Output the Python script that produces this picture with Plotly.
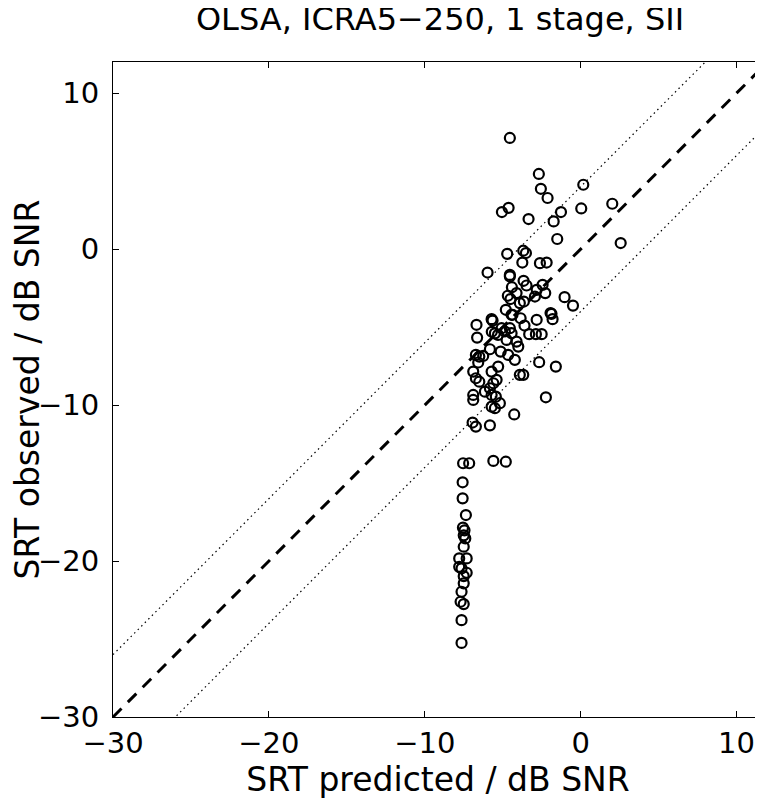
import plotly.graph_objects as go

# Scatter data: SRT predicted (x) vs SRT observed (y), dB SNR
srt_predicted = [
    -4.54, -2.68, -2.55, -2.12, 0.17, -4.62, -5.05, -3.34, -1.26, -1.73,
    0.04, 2.03, -1.50, 2.57, -4.71, -3.68, -3.51, -3.74, -2.61, -2.18,
    -5.97, -4.54, -4.54, -3.66, -3.47, -4.41, -4.67, -4.11, -2.82, -2.44,
    -2.93, -2.27, -3.90, -3.64, -1.03, -0.49, -4.80, -4.43, -1.93, -1.87,
    -5.71, -2.82, -3.85, -6.68, -5.65, -4.37, -1.80, -6.64, -5.70, -5.50,
    -5.30, -5.07, -4.86, -4.54, -4.43, -4.75, -4.11, -4.00, -3.30, -2.87,
    -2.50, -5.82, -5.13, -4.65, -4.22, -6.72, -6.50, -6.25, -6.57, -2.66,
    -1.59, -5.29, -5.71, -6.89, -3.90, -3.68, -6.72, -6.50, -5.39, -5.60,
    -5.82, -6.14, -6.89, -6.89, -5.71, -5.44, -5.18, -5.71, -5.50, -2.23,
    -4.26, -6.93, -6.72, -5.82, -7.54, -7.15, -5.60, -4.80, -7.57, -7.57,
    -7.36, -7.55, -7.45, -7.50, -7.40, -7.50, -7.79, -7.31, -7.79, -7.64,
    -7.31, -7.50, -7.50, -7.64, -7.70, -7.50, -7.64, -7.64, -4.50, -3.60,
]
srt_observed = [
    7.13, 4.82, 3.87, 3.28, 4.13, 2.65, 2.38, 1.93, 2.38, 1.78,
    2.61, 2.91, 0.65, 0.39, -0.30, -0.10, -0.25, -0.86, -0.90, -0.86,
    -1.50, -1.65, -1.75, -2.03, -2.33, -2.44, -2.99, -2.82, -2.61, -2.29,
    -3.04, -2.82, -3.46, -3.36, -3.08, -3.62, -3.89, -4.21, -4.10, -4.15,
    -4.49, -4.53, -4.43, -4.85, -4.58, -4.21, -4.49, -5.67, -5.30, -5.40,
    -5.50, -5.07, -5.28, -5.07, -5.39, -5.82, -5.93, -6.25, -5.45, -5.45,
    -5.45, -6.42, -6.57, -6.78, -7.10, -6.78, -6.89, -6.85, -7.27, -7.25,
    -7.53, -7.53, -7.85, -7.85, -8.06, -8.06, -8.28, -8.50, -8.38, -8.60,
    -8.92, -9.14, -9.35, -9.67, -9.35, -9.46, -9.88, -10.10, -10.20, -9.50,
    -10.60, -11.12, -11.38, -11.30, -13.73, -13.73, -13.58, -13.63, -14.95, -15.98,
    -17.05, -17.86, -18.03, -18.35, -18.55, -19.08, -19.83, -19.83, -20.37, -20.47,
    -20.75, -20.97, -21.43, -21.97, -22.61, -22.76, -23.79, -25.25, -3.20, -4.90,
]

# Reference lines: identity and +/- 4 dB
line_x = [-30, 12]
identity_offset = 0
band_offset = 4

x_ticks = [-30, -20, -10, 0, 10]
y_ticks = [-30, -20, -10, 0, 10]
x_range = [-30, 11.7]
y_range = [-30, 12]

title_text = "OLSA, ICRA5\u2212250, 1 stage, SII"
x_label = "SRT predicted / dB SNR"
y_label = "SRT observed / dB SNR"

FONT = "DejaVu Sans"

fig = go.Figure()

fig.add_trace(go.Scatter(
    x=line_x, y=[v + band_offset for v in line_x], mode="lines",
    line=dict(color="black", width=1.2, dash="1.5px,3.5px"), showlegend=False, hoverinfo="skip"))
fig.add_trace(go.Scatter(
    x=line_x, y=[v - band_offset for v in line_x], mode="lines",
    line=dict(color="black", width=1.2, dash="1.5px,3.5px"), showlegend=False, hoverinfo="skip"))
fig.add_trace(go.Scatter(
    x=line_x, y=[v + identity_offset for v in line_x], mode="lines",
    line=dict(color="black", width=3, dash="12px,9px"), showlegend=False, hoverinfo="skip"))

fig.add_trace(go.Scatter(
    x=srt_predicted, y=srt_observed, mode="markers",
    marker=dict(symbol="circle-open", size=10, color="black", line=dict(width=2.2, color="black")),
    showlegend=False))

# page body has an 8px default margin
W, H = 755, 793
L, R, T, B = 105, 0, 54, 84

fig.update_layout(
    width=W, height=H,
    margin=dict(l=L, r=R, t=T, b=B, pad=0),
    paper_bgcolor="white", plot_bgcolor="white",
    font=dict(family=FONT, color="black"),
    title=dict(text=title_text, font=dict(family=FONT, size=32, color="black"),
               x=432 / W, xref="container", xanchor="center",
               y=1, yref="container", yanchor="top"),
    xaxis=dict(range=x_range, tickvals=x_ticks, ticks="inside", ticklen=6, tickwidth=1,
               tickcolor="black", showline=True, linecolor="black", linewidth=1,
               mirror="ticks", showgrid=False, zeroline=False, automargin=False,
               tickfont=dict(family=FONT, size=29, color="black"), ticklabelstandoff=0,
               title=dict(text=x_label, font=dict(family=FONT, size=33, color="black"), standoff=0)),
    yaxis=dict(range=y_range, tickvals=y_ticks, ticks="inside", ticklen=6, tickwidth=1,
               tickcolor="black", showline=True, linecolor="black", linewidth=1,
               mirror=False, showgrid=False, zeroline=False, automargin=False,
               tickfont=dict(family=FONT, size=29, color="black"), ticklabelstandoff=7,
               title=dict(text=y_label, font=dict(family=FONT, size=33, color="black"), standoff=11)),
)

fig.write_html("out.html")
